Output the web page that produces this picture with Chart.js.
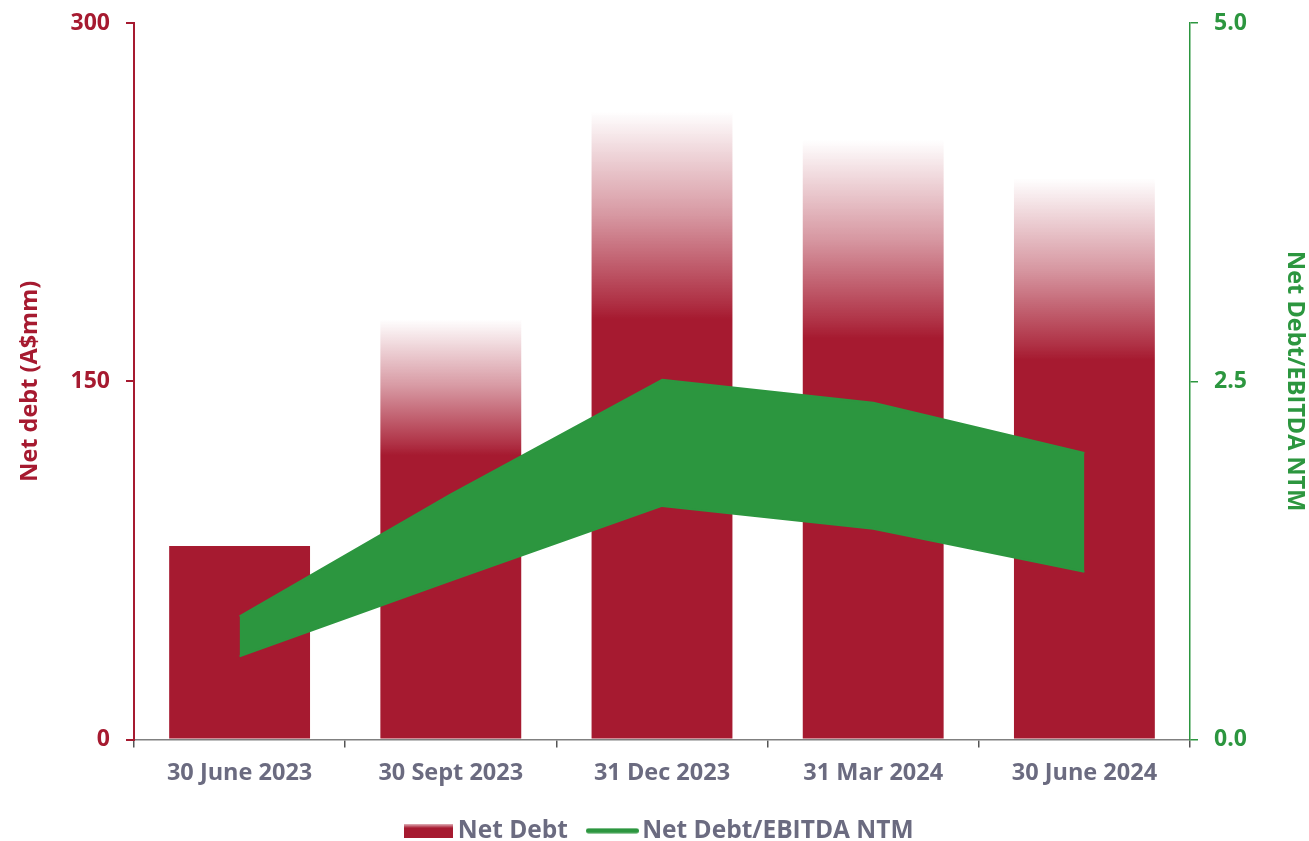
<!DOCTYPE html>
<html>
<head>
<meta charset="utf-8">
<script src="https://cdn.jsdelivr.net/npm/chart.js@4.4.1/dist/chart.umd.min.js"></script>
<style>
  html, body { margin: 0; padding: 0; background: #ffffff; overflow: hidden; }
  #wrap { width: 1309px; height: 841px; }
</style>
</head>
<body>
<div id="wrap"><canvas id="c" width="1309" height="841"></canvas></div>
<script>
// ---- data ----
const categories = ['30 June 2023', '30 Sept 2023', '31 Dec 2023', '31 Mar 2024', '30 June 2024'];
const netDebtLow  = [81, 119, 176, 168, 159];
const netDebtHigh = [81, 176, 263, 251, 235];
const ratioLow  = [0.58, 1.11, 1.63, 1.47, 1.17];
const ratioHigh = [0.86, 1.71, 2.51, 2.35, 2.00];
const leftTicks  = [0, 150, 300];
const rightTicks = [0, 2.5, 5];
const seriesNames = ['Net Debt', 'Net Debt/EBITDA NTM'];
const axisTitles = ['Net debt (A$mm)', 'Net Debt/EBITDA NTM'];

// ---- styles ----
const CRIMSON = '#A61A30';
const CRIMSON_RGB = '166,26,48';
const GREEN = '#2C963F';
const GRAY_TEXT = '#6B6B80';
const FONT = "'Open Sans', 'Noto Sans', sans-serif";
const LEGEND_FS = 24.5;

// Bar fill: solid up to the low value, fading out up to the high value
function barGradient(c) {
  const chart = c.chart;
  const sy = chart.scales && chart.scales.y;
  if (!sy || c.dataIndex === undefined) return CRIMSON;
  const i = c.dataIndex;
  const yb = sy.getPixelForValue(netDebtLow[i]);
  const yt = sy.getPixelForValue(netDebtHigh[i]);
  if (!isFinite(yb) || !isFinite(yt) || yb - yt < 1) return CRIMSON;
  const g = chart.ctx.createLinearGradient(0, yb, 0, yt);
  g.addColorStop(0, 'rgba(' + CRIMSON_RGB + ',1)');
  g.addColorStop(0.08, 'rgba(' + CRIMSON_RGB + ',0.9)');
  g.addColorStop(0.5, 'rgba(' + CRIMSON_RGB + ',0.45)');
  g.addColorStop(1, 'rgba(' + CRIMSON_RGB + ',0.0)');
  return g;
}

// Legend symbols (small canvases used as point styles)
function makeBarSymbol() {
  const cv = document.createElement('canvas');
  cv.width = 49; cv.height = 14;
  const c = cv.getContext('2d');
  const g = c.createLinearGradient(0, 0, 0, 14);
  g.addColorStop(0, 'rgba(' + CRIMSON_RGB + ',0.3)');
  g.addColorStop(0.3, 'rgba(' + CRIMSON_RGB + ',1)');
  g.addColorStop(1, 'rgba(' + CRIMSON_RGB + ',1)');
  c.fillStyle = g;
  c.fillRect(0, 0, 49, 14);
  return cv;
}
function makeLineSymbol() {
  const cv = document.createElement('canvas');
  cv.width = 53; cv.height = 6;
  const c = cv.getContext('2d');
  c.strokeStyle = GREEN; c.lineWidth = 5; c.lineCap = 'round';
  c.beginPath(); c.moveTo(2.5, 3); c.lineTo(50.5, 3); c.stroke();
  return cv;
}
const barSymbol = makeBarSymbol();
const lineSymbol = makeLineSymbol();

function noVerticalOverflow(s) { s.paddingTop = 0; s.paddingBottom = 0; }

const ctx = document.getElementById('c').getContext('2d');
new Chart(ctx, {
  type: 'bar',
  data: {
    labels: categories,
    datasets: [
      {
        type: 'bar', label: seriesNames[0], data: netDebtHigh, yAxisID: 'y',
        backgroundColor: barGradient, borderWidth: 0, order: 2,
        categoryPercentage: 1, barPercentage: 0.667
      },
      {
        type: 'line', label: seriesNames[1] + ' low', data: ratioLow, yAxisID: 'y1',
        borderColor: GREEN, backgroundColor: GREEN, borderWidth: 2, pointRadius: 0,
        fill: false, tension: 0, order: 1, borderJoinStyle: 'round'
      },
      {
        type: 'line', label: seriesNames[1], data: ratioHigh, yAxisID: 'y1',
        borderColor: GREEN, backgroundColor: GREEN, borderWidth: 2, pointRadius: 0,
        fill: '-1', tension: 0, order: 1, borderJoinStyle: 'round'
      }
    ]
  },
  options: {
    responsive: false,
    animation: false,
    devicePixelRatio: 1,
    layout: { padding: { top: 23, left: 15, right: 0, bottom: -12 } },
    plugins: {
      tooltip: { enabled: false },
      legend: {
        display: true,
        position: 'bottom',
        labels: {
          usePointStyle: true,
          boxWidth: 35,
          boxHeight: 14,
          pointStyleWidth: 35,
          padding: 27,
          color: GRAY_TEXT,
          font: { family: FONT, size: LEGEND_FS, weight: 'bold' },
          generateLabels: () => [
            { text: seriesNames[0], fillStyle: CRIMSON, strokeStyle: CRIMSON, lineWidth: 0,
              pointStyle: barSymbol, datasetIndex: 0, hidden: false, fontColor: GRAY_TEXT },
            { text: seriesNames[1], fillStyle: GREEN, strokeStyle: GREEN, lineWidth: 0,
              pointStyle: lineSymbol, datasetIndex: 2, hidden: false, fontColor: GRAY_TEXT }
          ]
        }
      }
    },
    scales: {
      x: {
        offset: true,
        grid: { display: true, offset: true, drawOnChartArea: false, drawTicks: true,
                tickLength: 8, color: '#555555', lineWidth: 1.5 },
        border: { display: true, color: '#808080', width: 1.5 },
        ticks: { color: GRAY_TEXT, font: { family: FONT, size: 23.5, weight: 'bold' }, padding: 12,
                 maxRotation: 0, autoSkip: false },
        afterFit(s) { s.height = 52; }
      },
      y: {
        type: 'linear', position: 'left',
        min: leftTicks[0], max: leftTicks[leftTicks.length - 1],
        afterBuildTicks(s) { s.ticks = leftTicks.map(v => ({ value: v })); },
        grid: { display: true, drawOnChartArea: false, drawTicks: true, tickLength: 8,
                color: CRIMSON, lineWidth: 2 },
        border: { display: true, color: CRIMSON, width: 2 },
        ticks: { color: CRIMSON, font: { family: FONT, size: 23, weight: 'bold' }, padding: 16,
                 callback: v => String(v) },
        title: { display: true, text: axisTitles[0], color: CRIMSON,
                 font: { family: FONT, size: 23.5, weight: 'bold' }, padding: { top: 1, bottom: 0 } },
        afterFit(s) { s.width = 119; noVerticalOverflow(s); }
      },
      y1: {
        type: 'linear', position: 'right',
        min: rightTicks[0], max: rightTicks[rightTicks.length - 1],
        afterBuildTicks(s) { s.ticks = rightTicks.map(v => ({ value: v })); },
        grid: { display: true, drawOnChartArea: false, drawTicks: true, tickLength: 8,
                color: GREEN, lineWidth: 1.5 },
        border: { display: true, color: GREEN, width: 1.5 },
        ticks: { color: GREEN, font: { family: FONT, size: 23, weight: 'bold' }, padding: 16,
                 callback: v => Number(v).toFixed(1) },
        title: { display: true, text: axisTitles[1], color: GREEN,
                 font: { family: FONT, size: 23.5, weight: 'bold' }, padding: { top: 0, bottom: 0 } },
        afterFit(s) { s.width = 119; noVerticalOverflow(s); }
      }
    }
  }
});
</script>
</body>
</html>
